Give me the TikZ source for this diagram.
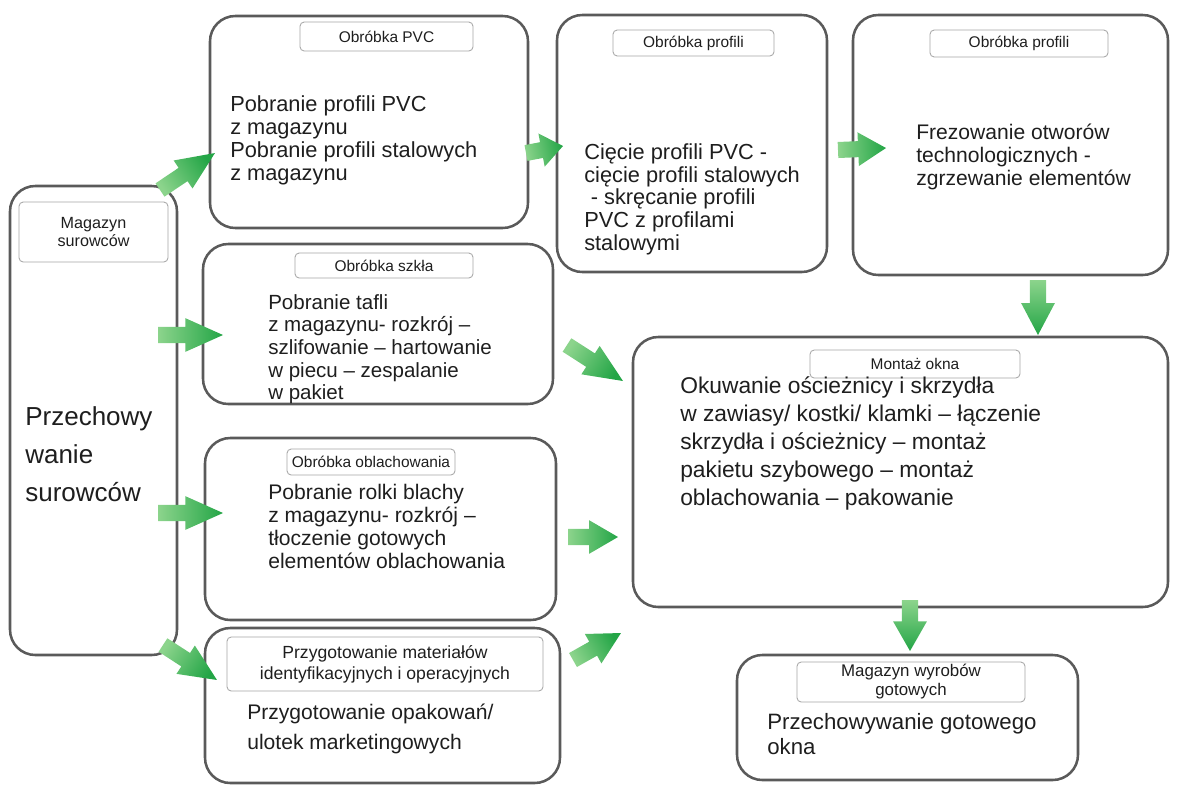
\documentclass[tikz,border=0pt]{standalone}
\usepackage{fontspec}
\setmainfont{Liberation Sans}
\usepackage{tikz}
\usetikzlibrary{fit,calc}

\definecolor{boxgray}{RGB}{90,90,90}
\definecolor{titlegray}{RGB}{165,165,165}
\definecolor{textdark}{RGB}{30,30,30}
\definecolor{arrowlight}{RGB}{140,212,140}
\definecolor{arrowdark}{RGB}{35,165,70}

% fat green arrow from one named point to another
\newcommand\flowarrow[2]{%
  \path let \p1=(#1), \p2=(#2) in
    \pgfextra{\pgfmathsetmacro\fang{atan2(\y2-\y1,\x2-\x1)}%
      \pgfmathsetmacro\flen{veclen(\x2-\x1,\y2-\y1)}%
      \xdef\fang{\fang}\xdef\flen{\flen}};
  \pgfmathsetmacro\fsang{\fang+90}%
  \pgfmathsetmacro\fneck{0.42*\flen}%
  \shade[top color=arrowlight, bottom color=arrowdark, shading angle=\fsang,
         shift={(#1)}, rotate=\fang]
    (0pt,-5.7pt) -- (\fneck pt,-5.7pt) -- (\fneck pt,-12pt) -- (\flen pt,0pt)
    -- (\fneck pt,12pt) -- (\fneck pt,5.7pt) -- (0pt,5.7pt) -- cycle;
}

\tikzset{
  procbox/.style={draw=boxgray, line width=1.8pt, rounded corners=18pt, inner sep=0pt},
  titlebox/.style={draw=titlegray, line width=0.6pt, rounded corners=3pt, inner sep=0pt},
  titletext/.style={inner sep=0pt, align=center, text=textdark, font=\fontsize{11}{12.5}\selectfont},
  bodytext/.style={anchor=north west, inner sep=0pt, align=left, text=textdark}
}

\begin{document}
\begin{tikzpicture}[x=0.025cm, y=-0.025cm]
  \useasboundingbox (0,0) rectangle (1178,785);

  % boxes
  \node[procbox, fit={(10,186) (177,655)}] (mag) {};
  \node[procbox, fit={(210,16) (528,228)}] (pvc) {};
  \node[procbox, fit={(557,15) (827,272)}] (prof) {};
  \node[procbox, fit={(853,15) (1168,275)}] (frez) {};
  \node[procbox, fit={(203,244) (553,404)}] (glass) {};
  \node[procbox, fit={(205,438) (556,620)}] (sheet) {};
  \node[procbox, fit={(205,628) (560,783)}] (prep) {};
  \node[procbox, fit={(633,337) (1168,607)}] (mount) {};
  \node[procbox, fit={(737,655) (1078,780)}] (store) {};

  % title frames
  \node[titlebox, fit={(19,202) (168,262)}] (tmag) {};
  \node[titlebox, fit={(300,22) (473,51)}] (tpvc) {};
  \node[titlebox, fit={(613,30) (774,56)}] (tprof) {};
  \node[titlebox, fit={(930,30) (1108,57)}] (tfrez) {};
  \node[titlebox, fit={(295,253) (473,278)}] (tglass) {};
  \node[titlebox, fit={(287,449) (455,475)}] (tsheet) {};
  \node[titlebox, fit={(227,637) (543,691)}] (tprep) {};
  \node[titlebox, fit={(810,350) (1020,378)}] (tmount) {};
  \node[titlebox, fit={(797,662) (1025,702)}] (tstore) {};

  % title texts
  \node[titletext, font=\fontsize{11.5}{13}\selectfont] (lmag) at (tmag) {Magazyn\\surowców};
  \node[titletext] (lpvc) at (tpvc) {Obróbka PVC};
  \node[titletext] (lprof) at (tprof) {Obróbka profili};
  \node[titletext] (lfrez) at (tfrez) {Obróbka profili};
  \node[titletext] (lglass) at (tglass) {Obróbka szkła};
  \node[titletext] (lsheet) at (tsheet) {Obróbka oblachowania};
  \node[titletext, font=\fontsize{12.5}{15}\selectfont] (lprep) at (tprep)
    {Przygotowanie materiałów\\identyfikacyjnych i operacyjnych};
  \node[titletext] (lmount) at (tmount) {Montaż okna};
  \node[titletext, font=\fontsize{12}{13.5}\selectfont] (lstore) at (tstore)
    {Magazyn wyrobów\\gotowych};

  % texts
  \node[bodytext, font=\fontsize{18.5}{27}\selectfont] (xmag) at (25,406)
    {Przechowy\\wanie\\surowców};
  \node[bodytext, font=\fontsize{15.5}{16.5}\selectfont] (xpvc) at (230,95)
    {Pobranie profili PVC\\z magazynu\\Pobranie profili stalowych\\z magazynu};
  \node[bodytext, font=\fontsize{15.5}{16.3}\selectfont] (xprof) at (584,143)
    {Cięcie profili PVC -\\cięcie profili stalowych\\\hspace{0.3em}- skręcanie profili\\PVC z profilami\\stalowymi};
  \node[bodytext, font=\fontsize{15}{16.3}\selectfont] (xfrez) at (916,124)
    {Frezowanie otworów\\technologicznych -\\zgrzewanie elementów};
  \node[bodytext, font=\fontsize{14.6}{16.1}\selectfont] (xglass) at (268,294)
    {Pobranie tafli\\z magazynu- rozkrój –\\szlifowanie – hartowanie\\w piecu – zespalanie\\w pakiet};
  \node[bodytext, font=\fontsize{15}{16.3}\selectfont] (xsheet) at (268,484)
    {Pobranie rolki blachy\\z magazynu- rozkrój –\\tłoczenie gotowych\\elementów oblachowania};
  \node[bodytext, font=\fontsize{15}{21}\selectfont] (xprep) at (247,704)
    {Przygotowanie opakowań/\\ulotek marketingowych};
  \node[bodytext, font=\fontsize{16.2}{20}\selectfont] (xmount) at (680,376)
    {Okuwanie ościeżnicy i skrzydła\\w zawiasy/ kostki/ klamki – łączenie\\skrzydła i ościeżnicy – montaż\\pakietu szybowego – montaż\\oblachowania – pakowanie};
  \node[bodytext, font=\fontsize{15.8}{17.7}\selectfont] (xstore) at (767,713)
    {Przechowywanie gotowego\\okna};

  % arrow ends
  \coordinate (s1) at (160,190);  \coordinate (e1) at (215,153);
  \coordinate (s2) at (158,335);  \coordinate (e2) at (223,335);
  \coordinate (s3) at (158,513);  \coordinate (e3) at (223,513);
  \coordinate (s4) at (163,645);  \coordinate (e4) at (217,680);
  \coordinate (s5) at (526,153);  \coordinate (e5) at (563,146);
  \coordinate (s6) at (838,150);  \coordinate (e6) at (886,148);
  \coordinate (s7) at (1038,280); \coordinate (e7) at (1038,335);
  \coordinate (s8) at (567,345);  \coordinate (e8) at (623,381);
  \coordinate (s9) at (568,537);  \coordinate (e9) at (618,537);
  \coordinate (s10) at (573,660); \coordinate (e10) at (621,633);
  \coordinate (s11) at (910,600); \coordinate (e11) at (910,651);

  \foreach \k in {1,...,11} {\flowarrow{s\k}{e\k}}
\end{tikzpicture}
\end{document}
